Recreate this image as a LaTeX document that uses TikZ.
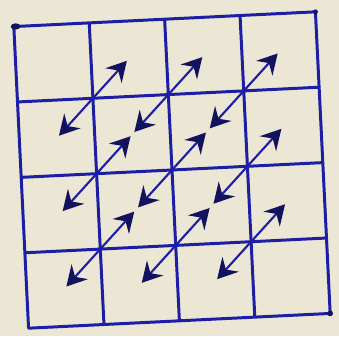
\documentclass[tikz,border=0pt]{standalone}
\usepackage{xcolor}
\usepackage{tikz}
\usetikzlibrary{arrows.meta}
\definecolor{paper}{RGB}{236,231,212}
\definecolor{ink}{RGB}{28,30,165}
\definecolor{darkink}{RGB}{18,18,95}

\begin{document}
\begin{tikzpicture}[
  gridln/.style={ink, line width=0.85pt, line cap=round},
  arr/.style={{Stealth[length=2mm, width=2.2mm, inset=0.7mm, color=darkink]}-{Stealth[length=2mm, width=2.2mm, inset=0.7mm, color=darkink]},
              ink, line width=0.6pt, shorten <=0.8pt, shorten >=0.8pt},
  blob/.style={fill=darkink}
]
\fill[paper] (0,0) rectangle (3.39,3.36);
\useasboundingbox (0,0) rectangle (3.39,3.36);
\begin{scope}[shift={(1.72,1.66)}, rotate=2.8, x=0.755cm, y=0.755cm]
  \draw[gridln] (-2,-2) grid[step=1] (2,2);
  % cell centres, row 0 at the top
  \foreach \r in {0,...,3}
    \foreach \c in {0,...,3}
      \coordinate (c-\r-\c) at (\c-1.5, 1.5-\r);
  % double arrows along the anti-diagonals
  \foreach \r in {1,2,3}
    \foreach \c in {0,1,2}{
      \pgfmathtruncatemacro{\up}{\r-1}
      \pgfmathtruncatemacro{\rt}{\c+1}
      \draw[arr] (c-\r-\c) -- (c-\up-\rt);
    }
  % pen marks at the corners
  \coordinate (tl) at (-2,2);
  \coordinate (tr) at (2,2);
  \coordinate (br) at (2,-2);
  \fill[blob] ([xshift=0.5pt]tl) ellipse (1.4pt and 0.9pt);
  \fill[blob] (tr) circle (0.7pt);
  \fill[blob] (br) circle (0.8pt);
\end{scope}
\end{tikzpicture}
\end{document}
